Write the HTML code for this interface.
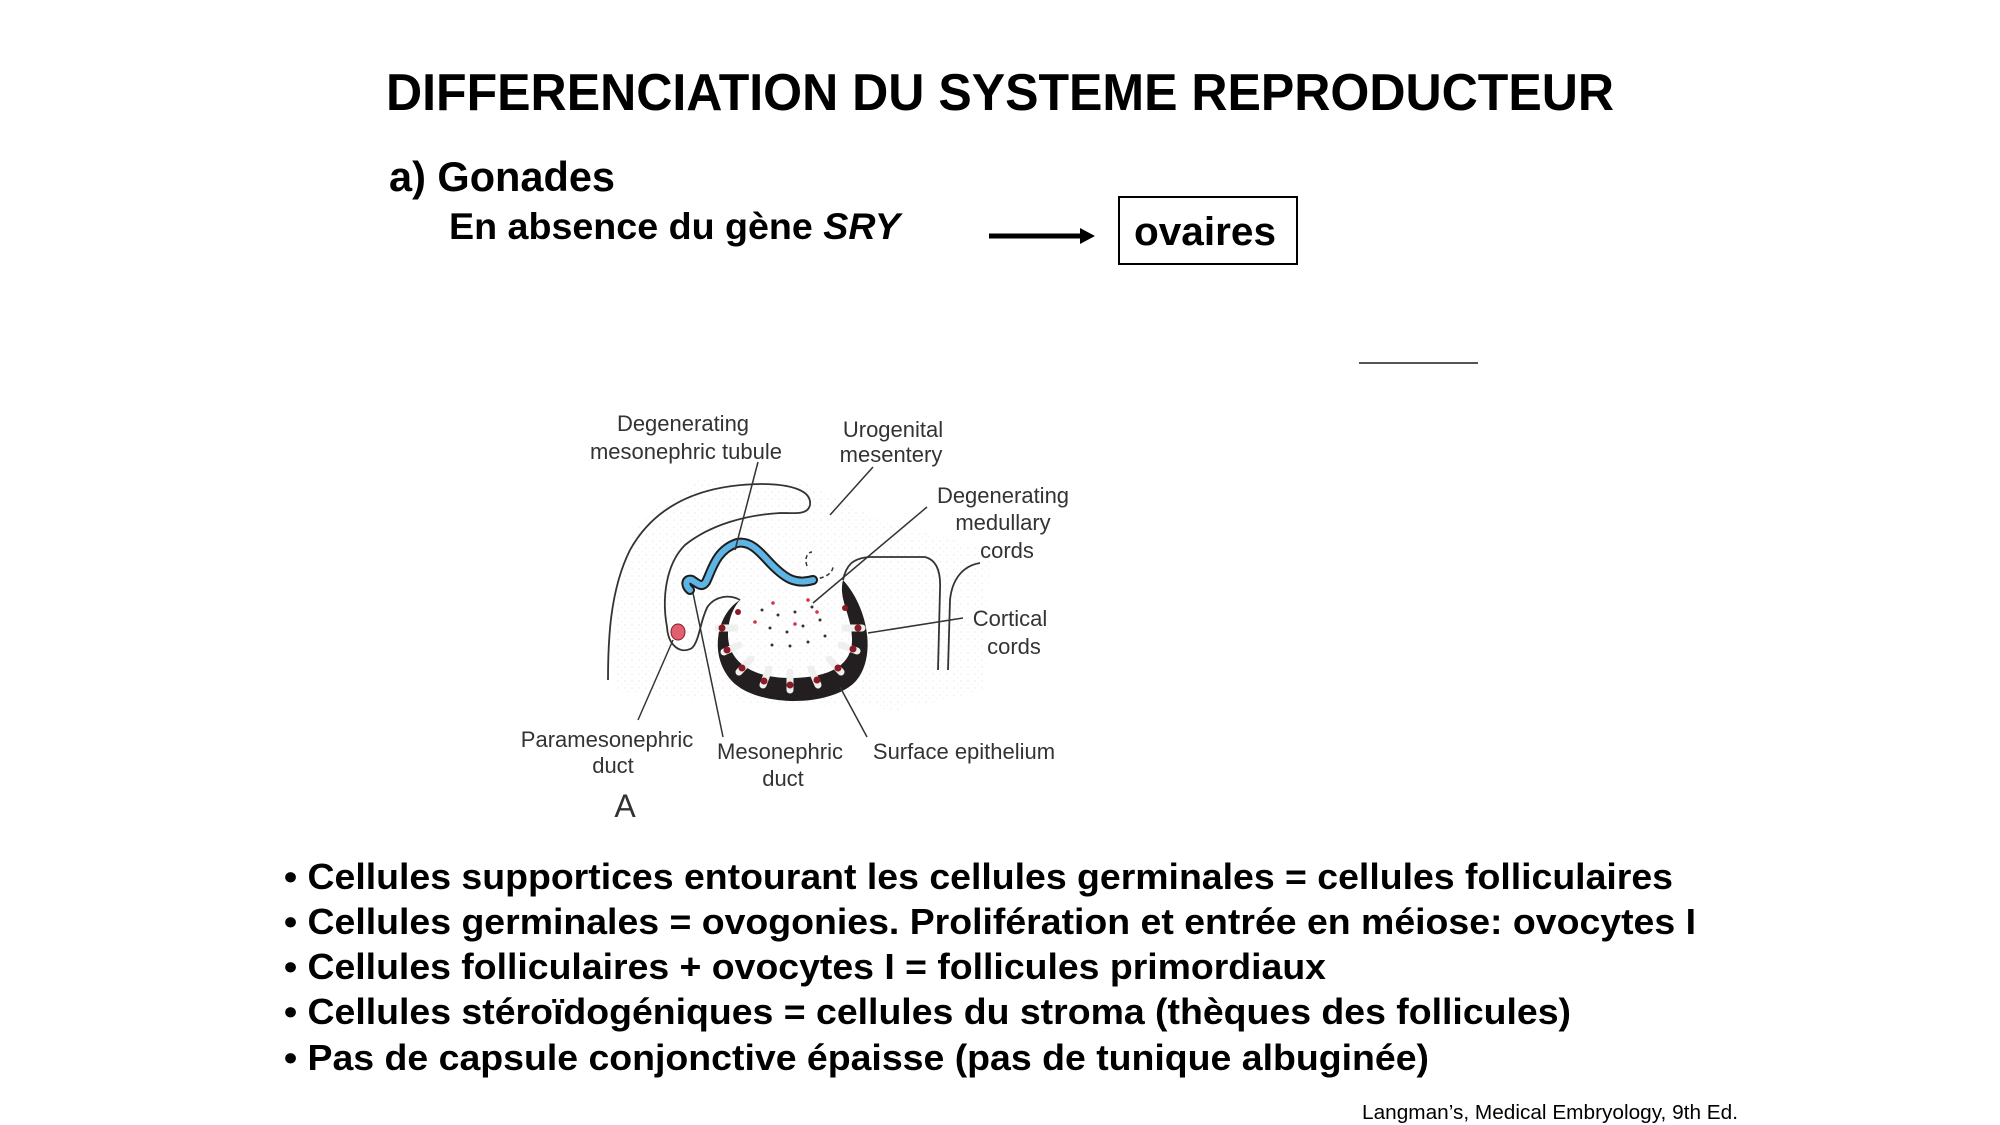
<!DOCTYPE html>
<html><head><meta charset="utf-8"><style>
html,body{margin:0;padding:0;background:#fff;}
svg{display:block;}
text{font-family:"Liberation Sans",Arial,sans-serif;}
</style></head><body>
<svg width="2000" height="1125" viewBox="0 0 2000 1125" xmlns="http://www.w3.org/2000/svg">
<defs>
<pattern id="st" width="7" height="7" patternUnits="userSpaceOnUse"><circle cx="2" cy="2" r="0.8" fill="#d0d0d0"/><circle cx="5.5" cy="5.5" r="0.6" fill="#e0e0e0"/></pattern>
</defs>
<text x="386" y="110" font-size="52" font-weight="bold" textLength="1228" lengthAdjust="spacingAndGlyphs">DIFFERENCIATION DU SYSTEME REPRODUCTEUR</text>
<text x="389" y="191" font-size="42" font-weight="bold" textLength="226" lengthAdjust="spacingAndGlyphs">a) Gonades</text>
<text x="449" y="239" font-size="37" font-weight="bold" textLength="451" lengthAdjust="spacingAndGlyphs">En absence du gène <tspan font-style="italic">SRY</tspan></text>
<line x1="989" y1="236" x2="1082" y2="236" stroke="#000" stroke-width="5"/>
<polygon points="1080,228 1095,236 1080,244" fill="#000"/>
<rect x="1119" y="197" width="178" height="67" fill="none" stroke="#000" stroke-width="2"/>
<text x="1134" y="245" font-size="40" font-weight="bold" textLength="142" lengthAdjust="spacingAndGlyphs">ovaires</text>
<line x1="1359" y1="363" x2="1478" y2="363" stroke="#555" stroke-width="2"/>

<!-- diagram -->
<polygon points="615,600 640,520 700,480 800,480 880,520 990,550 985,690 900,710 700,700 612,690" fill="url(#st)" opacity="0.45"/>
<g fill="none" stroke="#333" stroke-width="1.8">
<path d="M608,680 C608,640 610,590 630,550 C655,505 700,485 760,484 C790,484 812,490 810,505 C808,515 795,513 780,513 C745,515 710,525 685,545 C665,565 662,600 667,627 C668,645 680,655 692,648 C700,640 700,620 708,606 C716,596 730,594 740,600"/>
<path d="M843,580 C846,566 852,558 870,557 L925,557 C937,560 941,572 940,590 L938,670"/>
<path d="M948,670 L950,600 C952,580 962,566 980,563"/>
</g>
<path d="M740,600 C715,615 708,660 735,684 C762,707 830,707 855,682 C876,660 870,610 843,580 C838,600 852,615 852,640 C852,665 830,678 790,678 C750,678 728,660 728,635 C728,620 733,608 740,600 Z" fill="#231f20"/>
<g stroke="#eef0ee" stroke-width="7" stroke-linecap="round">
<line x1="845" y1="628" x2="862" y2="628"/><line x1="841" y1="645" x2="857" y2="651"/>
<line x1="829" y1="659" x2="841" y2="672"/><line x1="811" y1="669" x2="818" y2="685"/>
<line x1="790" y1="672" x2="790" y2="690"/><line x1="769" y1="669" x2="763" y2="685"/>
<line x1="751" y1="659" x2="739" y2="672"/><line x1="739" y1="645" x2="724" y2="652"/>
<line x1="735" y1="628" x2="718" y2="628"/>
</g>
<g fill="#8b1a24">
<circle cx="858" cy="628" r="3.5"/><circle cx="853" cy="649" r="3.5"/><circle cx="838" cy="668" r="3.5"/>
<circle cx="817" cy="680" r="3.5"/><circle cx="790" cy="685" r="3.5"/><circle cx="764" cy="681" r="3.5"/>
<circle cx="742" cy="668" r="3.5"/><circle cx="727" cy="650" r="3.5"/><circle cx="722" cy="628" r="3.5"/>
<circle cx="845" cy="608" r="3"/><circle cx="738" cy="612" r="3"/>
</g>
<g fill="#333">
<circle cx="762" cy="610" r="1.5"/><circle cx="778" cy="615" r="1.5"/><circle cx="795" cy="612" r="1.5"/><circle cx="812" cy="607" r="1.5"/>
<circle cx="770" cy="628" r="1.5"/><circle cx="787" cy="632" r="1.5"/><circle cx="803" cy="626" r="1.5"/><circle cx="820" cy="620" r="1.5"/>
<circle cx="772" cy="645" r="1.5"/><circle cx="790" cy="646" r="1.5"/><circle cx="808" cy="642" r="1.5"/><circle cx="825" cy="636" r="1.5"/>
</g>
<g fill="#d3344a"><circle cx="755" cy="622" r="1.8"/><circle cx="808" cy="600" r="1.8"/><circle cx="773" cy="603" r="1.8"/><circle cx="795" cy="624" r="1.8"/><circle cx="817" cy="612" r="1.8"/></g>
<path d="M813,580 C822,578 833,575 833,566 M807,566 C804,558 808,552 812,552" fill="none" stroke="#333" stroke-width="1.5" stroke-dasharray="4,3"/>
<path d="M690,590 C684,585 686,578 692,580 C698,584 702,588 706,582 C712,570 716,550 737,543 C752,540 762,555 772,565 C785,578 795,585 813,580" fill="none" stroke="#1d1d1b" stroke-width="10" stroke-linecap="round"/>
<path d="M690,590 C684,585 686,578 692,580 C698,584 702,588 706,582 C712,570 716,550 737,543 C752,540 762,555 772,565 C785,578 795,585 813,580" fill="none" stroke="#5fb4e6" stroke-width="6" stroke-linecap="round"/>
<ellipse cx="678" cy="632" rx="7" ry="8" fill="#e06070" stroke="#8b1a24" stroke-width="1"/>
<g stroke="#333" stroke-width="1.5">
<line x1="758" y1="462" x2="735" y2="550"/><line x1="873" y1="467" x2="830" y2="515"/>
<line x1="927" y1="507" x2="813" y2="603"/><line x1="963" y1="618" x2="868" y2="633"/>
<line x1="867" y1="737" x2="840" y2="687"/><line x1="723" y1="737" x2="693" y2="593"/>
<line x1="638" y1="720" x2="673" y2="640"/>
</g>
<g font-size="22" fill="#333" text-anchor="middle">
<text x="683" y="431">Degenerating</text><text x="686" y="459">mesonephric tubule</text>
<text x="893" y="437">Urogenital</text><text x="891" y="462">mesentery</text>
<text x="1003" y="503">Degenerating</text><text x="1003" y="530">medullary</text><text x="1007" y="558">cords</text>
<text x="1010" y="626">Cortical</text><text x="1014" y="654">cords</text>
<text x="964" y="759">Surface epithelium</text>
<text x="780" y="759">Mesonephric</text><text x="783" y="786">duct</text>
<text x="607" y="747">Paramesonephric</text><text x="613" y="773">duct</text>
<text x="625" y="817" font-size="32">A</text>
</g>

<g font-size="36" font-weight="bold">
<text x="284" y="889" textLength="1389" lengthAdjust="spacingAndGlyphs">• Cellules supportices entourant les cellules germinales = cellules folliculaires</text>
<text x="284" y="934" textLength="1412" lengthAdjust="spacingAndGlyphs">• Cellules germinales = ovogonies. Prolifération et entrée en méiose: ovocytes I</text>
<text x="284" y="979" textLength="1042" lengthAdjust="spacingAndGlyphs">• Cellules folliculaires + ovocytes I = follicules primordiaux</text>
<text x="284" y="1024" textLength="1287" lengthAdjust="spacingAndGlyphs">• Cellules stéroïdogéniques = cellules du stroma (thèques des follicules)</text>
<text x="284" y="1070" textLength="1145" lengthAdjust="spacingAndGlyphs">• Pas de capsule conjonctive épaisse (pas de tunique albuginée)</text>
</g>
<text x="1362" y="1119" font-size="20" textLength="376" lengthAdjust="spacingAndGlyphs">Langman’s, Medical Embryology, 9th Ed.</text>
</svg>
</body></html>
